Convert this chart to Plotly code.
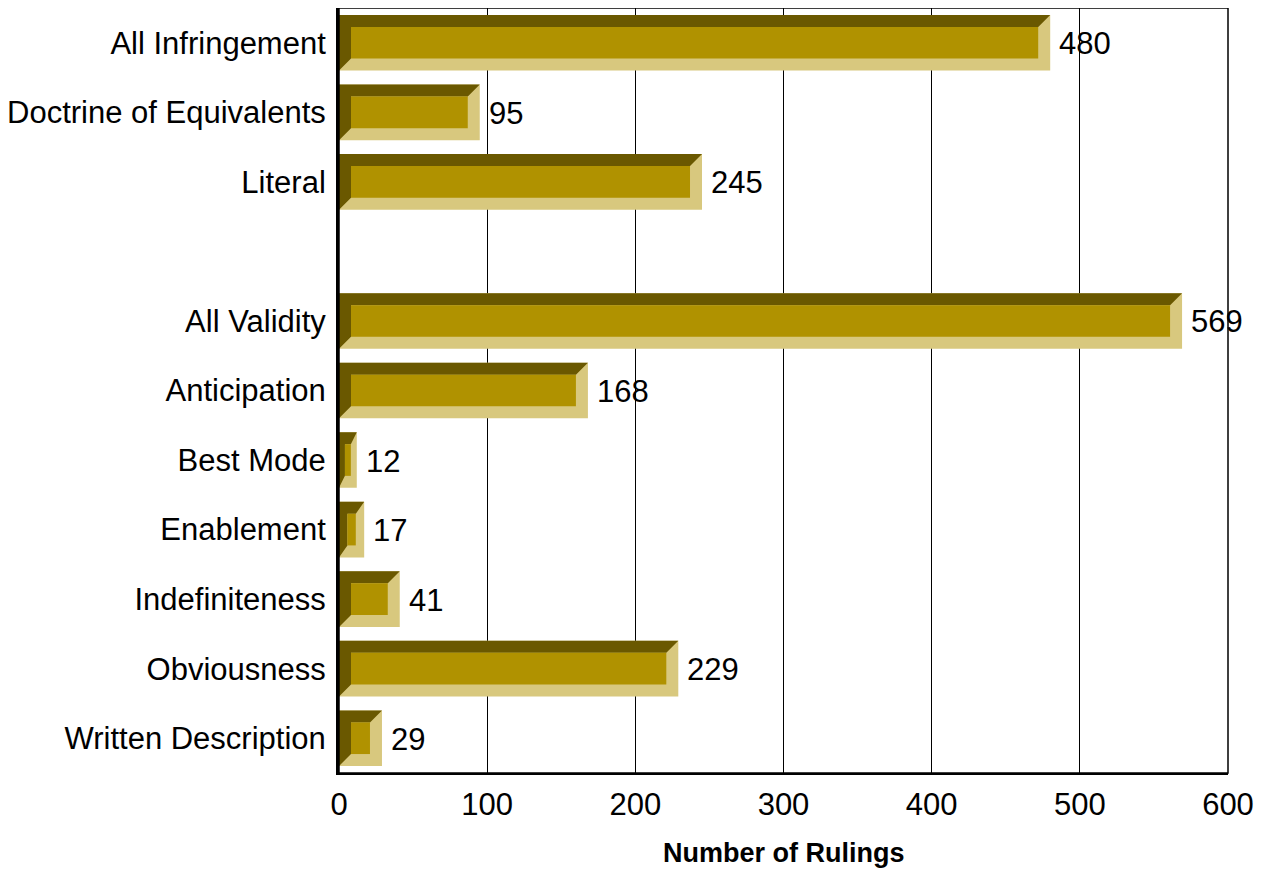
import plotly.graph_objects as go

categories = ["All Infringement", "Doctrine of Equivalents", "Literal", "",
              "All Validity", "Anticipation", "Best Mode", "Enablement",
              "Indefiniteness", "Obviousness", "Written Description"]
values = [480, 95, 245, None, 569, 168, 12, 17, 41, 229, 29]
x_ticks = [0, 100, 200, 300, 400, 500, 600]

W, H = 1256, 861
ML, MR, MT, MB = 331, 36, 0, 96
plot_w = W - ML - MR
plot_h = H - MT - MB
XMAX = 600
n = len(categories)
px_x = XMAX / plot_w          # data units per pixel (x)
px_y = n / plot_h             # data units per pixel (y)
BEVEL = 12                    # bevel in pixels
HALF = 0.4

LIGHT = "#D8C87E"
DARK = "#6A5800"
GOLD = "#B09200"
FONT = "Liberation Sans, Arial, sans-serif"

fig = go.Figure()
ys = [i for i, v in enumerate(values) if v is not None]
vs = [v for v in values if v is not None]
fig.add_trace(go.Bar(x=vs, y=ys, orientation="h", width=2 * HALF, base=0,
                     marker=dict(color=LIGHT, line=dict(width=0)),
                     hoverinfo="skip", showlegend=False))

for c, v in zip(ys, vs):
    bx = min(BEVEL * px_x, v / 3)
    by = BEVEL * px_y
    t, b = c - HALF, c + HALF
    fig.add_trace(go.Scatter(
        x=[0, v, v - bx, bx, bx, 0, 0],
        y=[t, t, t + by, t + by, b - by, b, t],
        mode="lines", fill="toself", fillcolor=DARK,
        line=dict(width=0, color=DARK), hoverinfo="skip", showlegend=False))
    fig.add_trace(go.Scatter(
        x=[bx, v - bx, v - bx, bx, bx],
        y=[t + by, t + by, b - by, b - by, t + by],
        mode="lines", fill="toself", fillcolor=GOLD,
        line=dict(width=0, color=GOLD), hoverinfo="skip", showlegend=False))
    fig.add_annotation(x=v, y=c, text=str(v), showarrow=False,
                       xanchor="left", yanchor="middle", xshift=7, yshift=-1,
                       font=dict(size=31, color="black", family=FONT))

fig.add_annotation(x=0.5, y=0, xref="paper", yref="paper", yshift=-80,
                   text="<b>Number of Rulings</b>", showarrow=False,
                   xanchor="center", yanchor="middle",
                   font=dict(size=27, color="black", family=FONT))

# frame
fig.add_shape(type="rect", xref="paper", yref="paper", x0=0, x1=1, y0=0, y1=1,
              line=dict(color="black", width=1.5), layer="above")

fig.update_layout(
    width=W, height=H,
    margin=dict(l=ML, r=MR, t=MT, b=MB),
    paper_bgcolor="white", plot_bgcolor="white",
    font=dict(family=FONT, size=31, color="black"),
    bargap=0.2,
    xaxis=dict(range=[0, XMAX], tickvals=x_ticks, showgrid=True,
               gridcolor="black", gridwidth=1, zeroline=False,
               showline=True, linecolor="black", linewidth=2, mirror=False,
               ticks="", ticklabelstandoff=3, tickfont=dict(size=31)),
    yaxis=dict(range=[n - 0.5, -0.5], tickvals=list(range(n)),
               ticktext=categories, showgrid=False, zeroline=False,
               showline=True, linecolor="black", linewidth=3,
               ticks="", ticklabelstandoff=4, tickfont=dict(size=31)),
)

fig.write_html("out.html")
